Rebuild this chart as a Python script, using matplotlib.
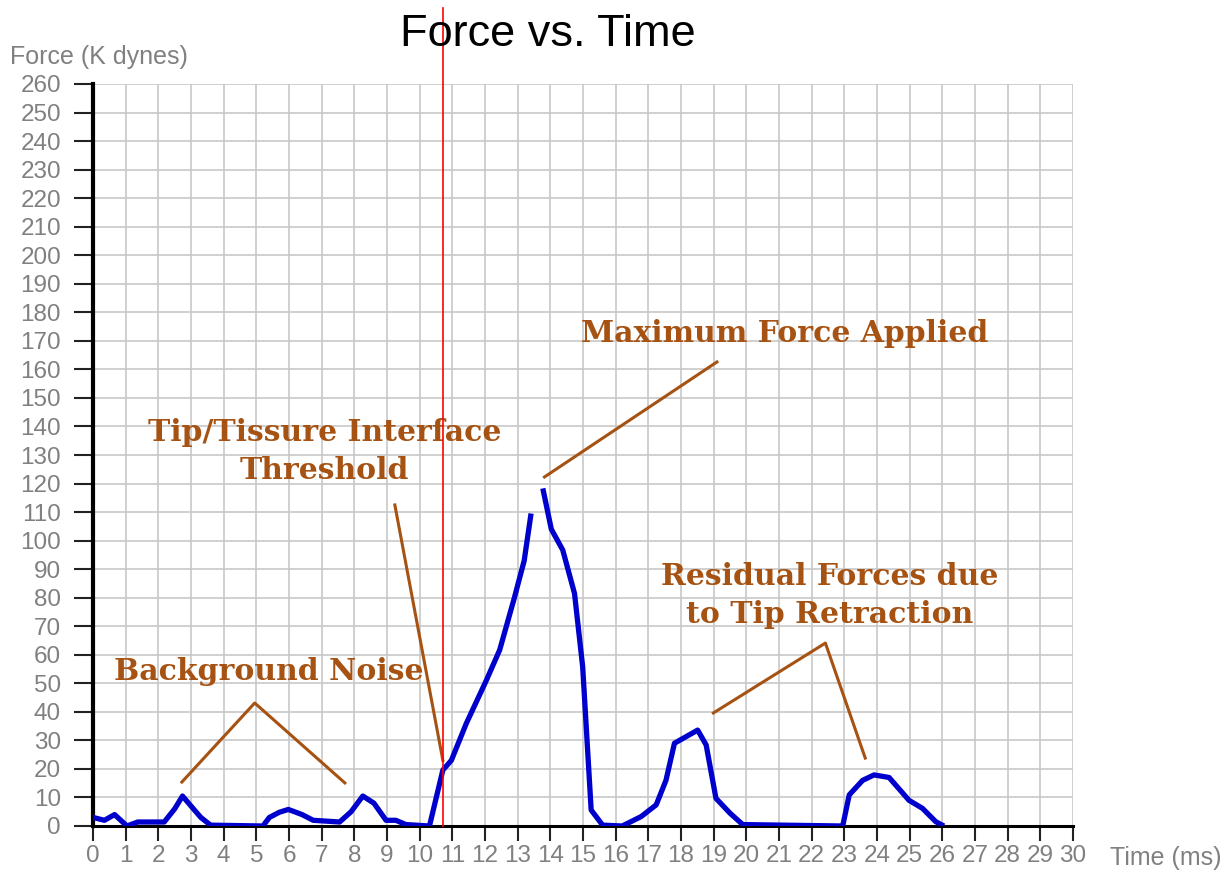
import matplotlib.pyplot as plt
import numpy as np

# force curve (nan = gap in the trace near the peak)
time_ms = [0, 0.35, 0.66, 1.04, 1.37, 2.18, 2.5, 2.74, 3.0, 3.3, 3.6, 5.2, 5.4, 5.7, 5.98,
           6.4, 6.74, 7.55, 7.9, 8.26, 8.6, 8.97, 9.27, 9.58, 10.3, 10.71, 10.97, 11.43,
           12.04, 12.45, 12.9, 13.2, 13.41, np.nan, 13.77, 14.03, 14.38, 14.74, 14.99,
           15.25, 15.6, 16.2, 16.78, 17.24, 17.54, 17.8, 18.51, 18.77, 19.07, 19.5,
           19.89, 22.95, 23.15, 23.56, 23.91, 24.37, 24.98, 25.39, 25.8, 26.05]
force_kdyn = [3, 2, 4, 0, 1.4, 1.4, 6, 10.5, 7, 3, 0.3, 0, 3, 4.8, 5.8,
              4, 2, 1.4, 5, 10.5, 8, 2, 2, 0.5, 0, 19.6, 23, 36,
              51, 61.7, 80, 93, 109.5, np.nan, 118.3, 104, 96.7, 81.5, 55.8,
              5.6, 0.3, 0, 3.3, 7.4, 16, 29, 33.6, 28.4, 9.7, 4.5,
              0.5, 0, 10.9, 16, 17.9, 17, 9, 6.2, 1.5, 0]

threshold_ms = 10.71

x_ticks = list(range(0, 31))
y_ticks = list(range(0, 261, 10))

# annotation pointer lines
noise_x, noise_y = [2.72, 4.95, 7.71], [15.4, 43.1, 15.1]
tip_x, tip_y = [9.24, 10.71], [112.5, 23]
max_x, max_y = [13.82, 19.1], [122.3, 162.6]
resid_x, resid_y = [18.99, 22.42, 23.64], [39.6, 64.1, 23.8]

brown = '#A65212'

fig = plt.figure(figsize=(12.29, 8.73), dpi=100)
ax = fig.add_axes([93 / 1229, 47 / 873, 980 / 1229, 742 / 873])

ax.set_xlim(0, 30)
ax.set_ylim(0, 260)
ax.set_xticks(x_ticks)
ax.set_yticks(y_ticks)
ax.grid(True, color='#C8C8C8', linewidth=1.2)
ax.set_axisbelow(True)

for side in ['top', 'right']:
    ax.spines[side].set_visible(False)
ax.spines['left'].set_linewidth(3)
ax.spines['bottom'].set_linewidth(2.2)

ax.tick_params(axis='x', direction='out', length=11, width=1.5, pad=3,
               labelsize=17.5, labelcolor='#808080', color='#222222')
ax.tick_params(axis='y', direction='out', length=14, width=1.5, pad=9,
               labelsize=17.5, labelcolor='#808080', color='#222222')
for lbl in ax.get_xticklabels() + ax.get_yticklabels():
    lbl.set_family('Liberation Sans')

# the curve
ax.plot(time_ms, force_kdyn, color='#0000CC', linewidth=3.8, zorder=4,
        solid_joinstyle='round', solid_capstyle='butt')

# threshold line, reaching up past the axes
ax.plot([threshold_ms, threshold_ms], [0, 286.6], color='red', linewidth=1.2,
        clip_on=False, zorder=5)

# annotations
for xs, ys in [(noise_x, noise_y), (tip_x, tip_y), (max_x, max_y), (resid_x, resid_y)]:
    ax.plot(xs, ys, color=brown, linewidth=2.2, zorder=3)

font = dict(family='DejaVu Serif', fontweight='bold', color=brown,
            fontsize=21.5, ha='center', va='center', linespacing=1.42)
ax.text(21.18, 172.7, 'Maximum Force Applied', **font)
ax.text(7.09, 131.2, 'Tip/Tissure Interface\nThreshold', **font)
ax.text(22.54, 80.8, 'Residual Forces due\nto Tip Retraction', **font)
ax.text(5.38, 54.3, 'Background Noise', **font)

# titles and axis names
fig.text(548 / 1229, 1 - 35 / 873, 'Force vs. Time', family='Liberation Sans',
         fontsize=32.5, ha='center', va='center')
fig.text(10 / 1229, 1 - 57 / 873, 'Force (K dynes)', family='Liberation Sans',
         fontsize=18, color='#808080', ha='left', va='center')
fig.text(1110 / 1229, 1 - 858 / 873, 'Time (ms)', family='Liberation Sans',
         fontsize=18, color='#808080', ha='left', va='center')

plt.savefig('out.png', dpi=100)
plt.close(fig)
